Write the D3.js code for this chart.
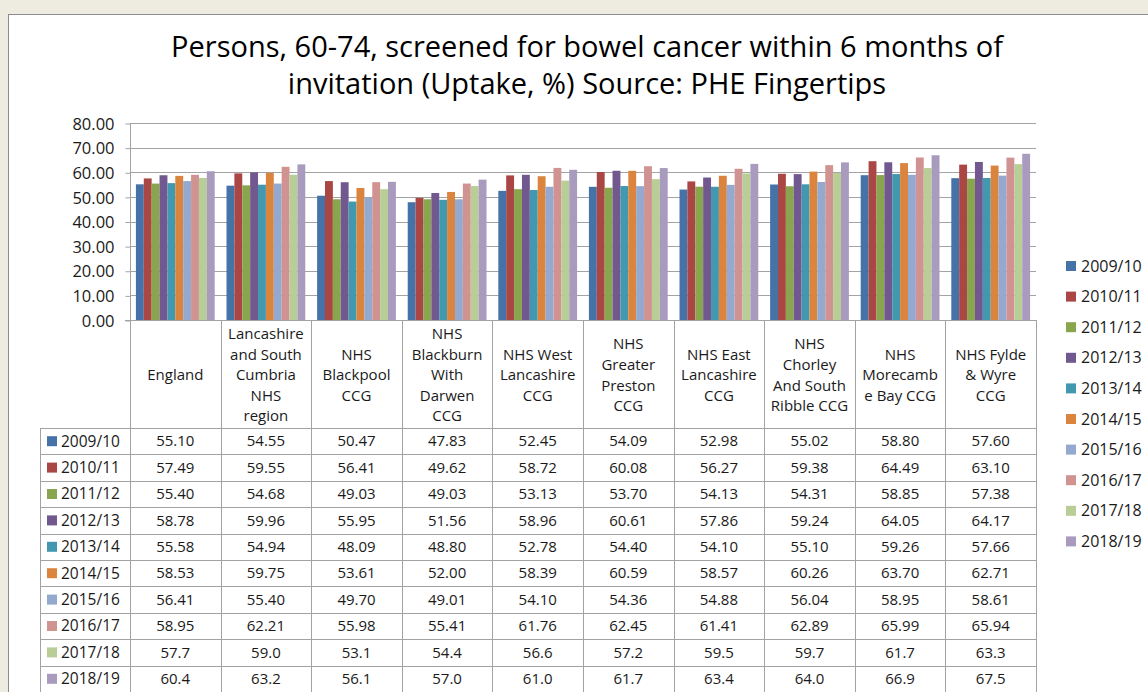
<!DOCTYPE html>
<html>
<head>
<meta charset="utf-8">
<script src="https://cdn.jsdelivr.net/npm/d3@7"></script>
<style>
  html, body { margin: 0; padding: 0; background: #EEECE1; }
  svg { display: block; }
  text { font-family: "Open Sans", sans-serif; fill: #1a1a1a; }
</style>
</head>
<body>
<svg id="chart" width="1148" height="692"></svg>
<script>
// ---------- DATA ----------
const titleLines = [
  "Persons, 60-74, screened for bowel cancer within 6 months of",
  "invitation (Uptake, %) Source: PHE Fingertips"
];
const categories = [
  "England",
  "Lancashire and South Cumbria NHS region",
  "NHS Blackpool CCG",
  "NHS Blackburn With Darwen CCG",
  "NHS West Lancashire CCG",
  "NHS Greater Preston CCG",
  "NHS East Lancashire CCG",
  "NHS Chorley And South Ribble CCG",
  "NHS Morecambe Bay CCG",
  "NHS Fylde & Wyre CCG"
];
const categoryLabelLines = [
  ["England"],
  ["Lancashire", "and South", "Cumbria", "NHS", "region"],
  ["NHS", "Blackpool", "CCG"],
  ["NHS", "Blackburn", "With", "Darwen", "CCG"],
  ["NHS West", "Lancashire", "CCG"],
  ["NHS", "Greater", "Preston", "CCG"],
  ["NHS East", "Lancashire", "CCG"],
  ["NHS", "Chorley", "And South", "Ribble CCG"],
  ["NHS", "Morecamb", "e Bay CCG"],
  ["NHS Fylde", "& Wyre", "CCG"]
];
const seriesNames = ["2009/10","2010/11","2011/12","2012/13","2013/14","2014/15","2015/16","2016/17","2017/18","2018/19"];
const seriesDecimals = [2,2,2,2,2,2,2,2,1,1];
const v2009_10 = [55.10, 54.55, 50.47, 47.83, 52.45, 54.09, 52.98, 55.02, 58.80, 57.60];
const v2010_11 = [57.49, 59.55, 56.41, 49.62, 58.72, 60.08, 56.27, 59.38, 64.49, 63.10];
const v2011_12 = [55.40, 54.68, 49.03, 49.03, 53.13, 53.70, 54.13, 54.31, 58.85, 57.38];
const v2012_13 = [58.78, 59.96, 55.95, 51.56, 58.96, 60.61, 57.86, 59.24, 64.05, 64.17];
const v2013_14 = [55.58, 54.94, 48.09, 48.80, 52.78, 54.40, 54.10, 55.10, 59.26, 57.66];
const v2014_15 = [58.53, 59.75, 53.61, 52.00, 58.39, 60.59, 58.57, 60.26, 63.70, 62.71];
const v2015_16 = [56.41, 55.40, 49.70, 49.01, 54.10, 54.36, 54.88, 56.04, 58.95, 58.61];
const v2016_17 = [58.95, 62.21, 55.98, 55.41, 61.76, 62.45, 61.41, 62.89, 65.99, 65.94];
const v2017_18 = [57.7, 59.0, 53.1, 54.4, 56.6, 57.2, 59.5, 59.7, 61.7, 63.3];
const v2018_19 = [60.4, 63.2, 56.1, 57.0, 61.0, 61.7, 63.4, 64.0, 66.9, 67.5];
const seriesValues = [v2009_10, v2010_11, v2011_12, v2012_13, v2013_14, v2014_15, v2015_16, v2016_17, v2017_18, v2018_19];
const yTicks = [0, 10, 20, 30, 40, 50, 60, 70, 80];
const colors = ["#4572A7","#AA4643","#89A54E","#71588F","#4198AF","#DB843D","#93A9CF","#D19392","#B9CD96","#A99BBD"];

// ---------- LAYOUT ----------
const svg = d3.select("#chart");
const plotLeft = 130, plotRight = 1036, plotTop = 123, plotBottom = 320;
const tableLeft = 40, headerBottom = 428, tableBottom = 692;
const gridColor = "#a3a3a3";

// chart frame
svg.append("rect").attr("x", 8.5).attr("y", 14.5).attr("width", 1160).attr("height", 700)
  .attr("fill", "#ffffff").attr("stroke", "#8c8c8c").attr("stroke-width", 1);

// title
svg.append("text").attr("x", 587).attr("text-anchor", "middle")
  .style("font-size", "29px").style("fill", "#000")
  .selectAll("tspan").data(titleLines).join("tspan")
  .attr("x", 587).attr("y", (d, i) => 57 + i * 37).text(d => d);

// scales
const x0 = d3.scaleBand().domain(categories).range([plotLeft, plotRight]).paddingInner(0).paddingOuter(0);
const x1 = d3.scaleBand().domain(seriesNames).range([0, x0.bandwidth()]).paddingInner(0).paddingOuter(0.75);
const y = d3.scaleLinear().domain([0, 80]).range([plotBottom, plotTop]);

// gridlines
svg.append("g").selectAll("line").data(yTicks).join("line")
  .attr("x1", plotLeft).attr("x2", plotRight)
  .attr("y1", d => Math.round(y(d)) + 0.5).attr("y2", d => Math.round(y(d)) + 0.5)
  .attr("stroke", gridColor).attr("stroke-width", 1);

// y axis
const yAxis = d3.axisLeft(y).tickValues(yTicks).tickFormat(d3.format(".2f")).tickSize(5).tickPadding(11);
const gy = svg.append("g").attr("transform", `translate(${plotLeft + 0.5},0.5)`).call(yAxis);
gy.select(".domain").attr("stroke", gridColor).attr("d", `M0,${plotTop}V${plotBottom}`);
gy.selectAll(".tick line").attr("stroke", gridColor);
gy.selectAll(".tick text").style("font-size", "16.5px").style("font-family", "'Open Sans', sans-serif").attr("fill", "#1a1a1a").attr("dy", "0.34em");

// bars
const seriesData = seriesNames.map((s, si) => ({ name: s, color: colors[si], values: seriesValues[si] }));
svg.append("g").selectAll("g").data(seriesData).join("g")
  .attr("fill", d => d.color)
  .selectAll("rect").data(d => d.values.map((v, ci) => ({ s: d.name, c: categories[ci], v })))
  .join("rect")
  .attr("x", d => x0(d.c) + x1(d.s))
  .attr("width", x1.bandwidth())
  .attr("y", d => y(d.v))
  .attr("height", d => y(0) - y(d.v));

// ---------- DATA TABLE ----------
const rowH = (tableBottom - headerBottom) / seriesNames.length;
const tbl = svg.append("g");
const hLines = d3.range(seriesNames.length + 1).map(i => headerBottom + i * rowH);
tbl.selectAll("line.h").data(hLines).join("line").attr("class", "h")
  .attr("x1", tableLeft).attr("x2", plotRight)
  .attr("y1", d => Math.round(d) + 0.5).attr("y2", d => Math.round(d) + 0.5)
  .attr("stroke", gridColor);
tbl.append("line").attr("x1", plotLeft - 5).attr("x2", plotRight)
  .attr("y1", plotBottom + 0.5).attr("y2", plotBottom + 0.5).attr("stroke", gridColor);
const vLines = categories.map(c => x0(c)).concat([plotRight]);
tbl.selectAll("line.v").data(vLines).join("line").attr("class", "v")
  .attr("x1", d => Math.round(d) + 0.5).attr("x2", d => Math.round(d) + 0.5)
  .attr("y1", plotBottom).attr("y2", tableBottom).attr("stroke", gridColor);
tbl.append("line").attr("x1", tableLeft + 0.5).attr("x2", tableLeft + 0.5)
  .attr("y1", headerBottom).attr("y2", tableBottom).attr("stroke", gridColor);

// header labels
const headerCenter = 375, headerLH = 20.6;
tbl.selectAll("text.hdr").data(categories).join("text").attr("class", "hdr")
  .attr("text-anchor", "middle").style("font-size", "15px")
  .each(function (c, ci) {
    const lines = categoryLabelLines[ci];
    const cx = x0(c) + x0.bandwidth() / 2;
    d3.select(this).selectAll("tspan").data(lines).join("tspan")
      .attr("x", cx)
      .attr("y", (d, i) => headerCenter + (i - (lines.length - 1) / 2) * headerLH)
      .attr("dy", "0.35em")
      .text(d => d);
  });

// rows
const rows = tbl.selectAll("g.row").data(seriesData).join("g").attr("class", "row")
  .attr("transform", (d, i) => `translate(0,${headerBottom + i * rowH + rowH / 2})`);
rows.append("rect").attr("x", 47).attr("y", -5).attr("width", 10).attr("height", 10).attr("fill", d => d.color);
rows.append("text").attr("x", 61).attr("dy", "0.35em").style("font-size", "15.5px").text(d => d.name);
rows.selectAll("text.val").data((d, si) => d.values.map((v, ci) => ({ v, c: categories[ci], dec: seriesDecimals[si] })))
  .join("text").attr("class", "val")
  .attr("x", d => x0(d.c) + x0.bandwidth() / 2).attr("dy", "0.35em")
  .attr("text-anchor", "middle").style("font-size", "15px")
  .text(d => d.v.toFixed(d.dec));

// ---------- LEGEND ----------
const leg = svg.append("g").selectAll("g").data(seriesData).join("g")
  .attr("transform", (d, i) => `translate(1066,${266 + i * 30.6})`);
leg.append("rect").attr("x", 0).attr("y", -5).attr("width", 10).attr("height", 10).attr("fill", d => d.color);
leg.append("text").attr("x", 15).attr("dy", "0.35em").style("font-size", "16px").text(d => d.name);
</script>
</body>
</html>
